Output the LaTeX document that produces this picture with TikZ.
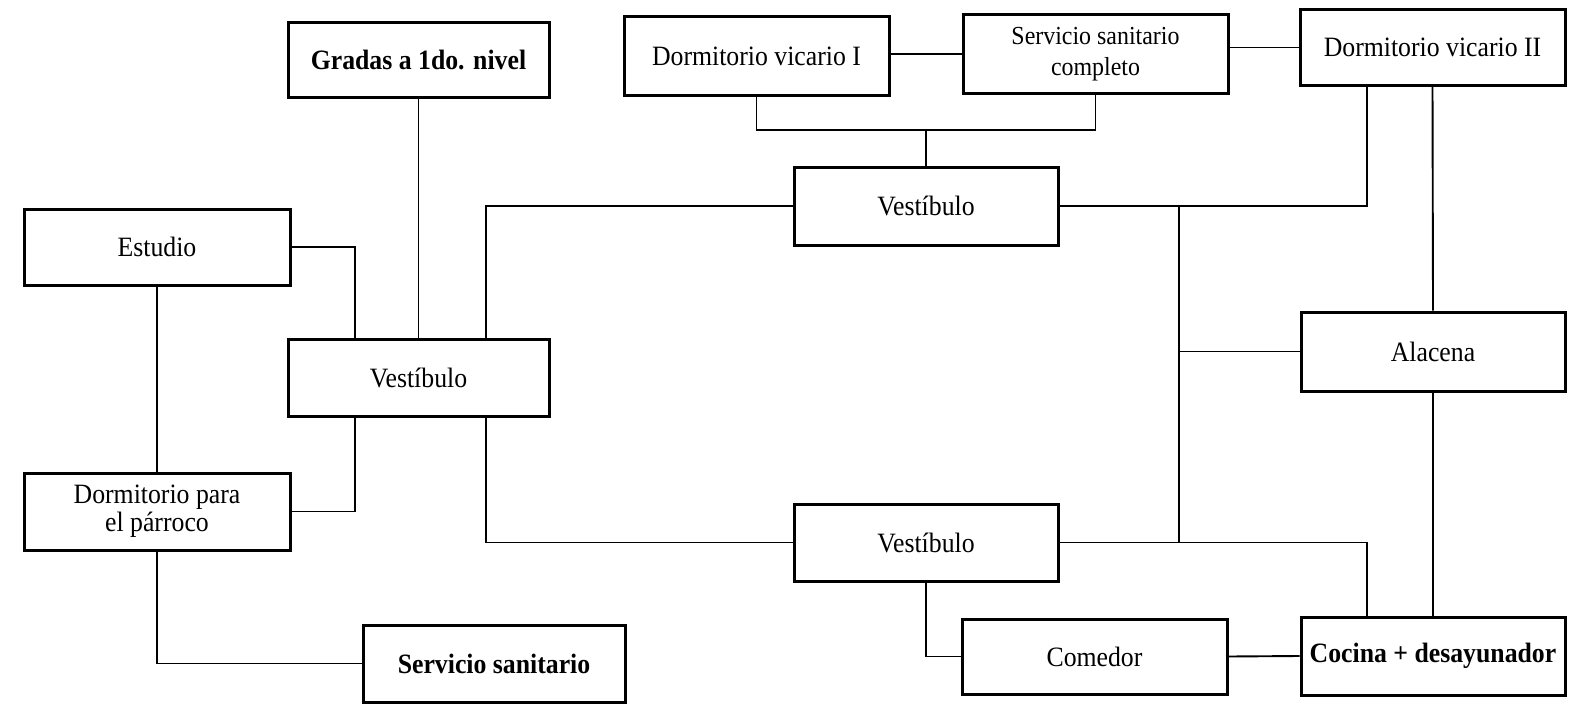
\documentclass[tikz,border=0pt]{standalone}
\usepackage{fontspec}
\setmainfont[FakeStretch=0.92]{Liberation Serif}
\begin{document}
\begin{tikzpicture}[x=1pt,y=-1pt,
  box/.style={draw, line width=3pt, rectangle, inner sep=0pt, align=center,
    font=\fontsize{28}{28}\selectfont},
  bbox/.style={box, font=\fontsize{28}{28}\selectfont\bfseries},
  conn/.style={line width=1.1pt},
  tconn/.style={line width=1.9pt}]
\useasboundingbox (0,0) rectangle (1574,709);
\node[bbox, minimum width=261pt, minimum height=75pt] (grad) at (418.5,60) {Gradas a 1do. nivel};
\node[box, minimum width=266pt, minimum height=76pt] (estu) at (157,247) {Estudio};
\node[box, minimum width=261pt, minimum height=77pt] (vesL) at (418.5,377.5) {Vestíbulo};
\node[box, minimum width=266pt, minimum height=77pt] (parr) at (157,511.5) {Dormitorio para\\el párroco};
\node[bbox, minimum width=262pt, minimum height=77pt] (sslow) at (494,663.5) {Servicio sanitario};
\node[box, minimum width=265pt, minimum height=78pt] (dv1) at (756.5,56) {Dormitorio vicario I};
\node[box, minimum width=265pt, minimum height=78pt, font=\fontsize{26}{31}\selectfont] (ssc) at (1095.5,54) {Servicio sanitario\\completo};
\node[box, minimum width=264pt, minimum height=78pt] (vesT) at (926,206) {Vestíbulo};
\node[box, minimum width=265pt, minimum height=75pt] (dv2) at (1432.5,47.5) {Dormitorio vicario II};
\node[box, minimum width=264pt, minimum height=79pt] (alac) at (1433,351.5) {Alacena};
\node[box, minimum width=264pt, minimum height=77pt] (vesB) at (926,542.5) {Vestíbulo};
\node[box, minimum width=265pt, minimum height=75pt] (come) at (1094.5,656.5) {Comedor};
\node[bbox, minimum width=264pt, minimum height=78pt] (coci) at (1433,656) {Cocina + desayunador};
\coordinate (j1) at (926,130);
\coordinate (jt) at (1179,206);
\coordinate (jb) at (1179,542.5);
% left part
\draw[conn] (grad.south) -- (vesL.north);
\draw[conn] (estu.east) -| ([xshift=-63.5pt]vesL.north);
\draw[conn] (estu.south) -- (parr.north);
\draw[conn] ([xshift=67.5pt]vesL.north) |- (vesT.west);
\draw[conn] ([xshift=-63.5pt]vesL.south) |- (parr.east);
\draw[conn] ([xshift=67.5pt]vesL.south) |- (vesB.west);
\draw[conn] (parr.south) |- (sslow.west);
% top part
\draw[conn] (ssc.west) -- (ssc.west -| dv1.east);
\draw[conn] (dv1.south) |- (j1) -| (ssc.south);
\draw[conn] (j1) -- (vesT.north);
\draw[conn] (dv2.west) -- (dv2.west -| ssc.east);
\draw[conn] (vesT.east) -| ([xshift=-65.5pt]dv2.south);
% right part
\draw[conn] (jt) -- (jb);
\draw[conn] (alac.west) -- (alac.west -| jt);
\draw[tconn] (dv2.south) -- (alac.north);
\draw[tconn] (alac.south) -- (coci.north);
\draw[conn] (vesB.east) -| ([xshift=-66pt]coci.north);
\draw[conn] (vesB.south) |- (come.west);
\draw[tconn] (come.east) -- (coci.west);
\end{tikzpicture}
\end{document}
